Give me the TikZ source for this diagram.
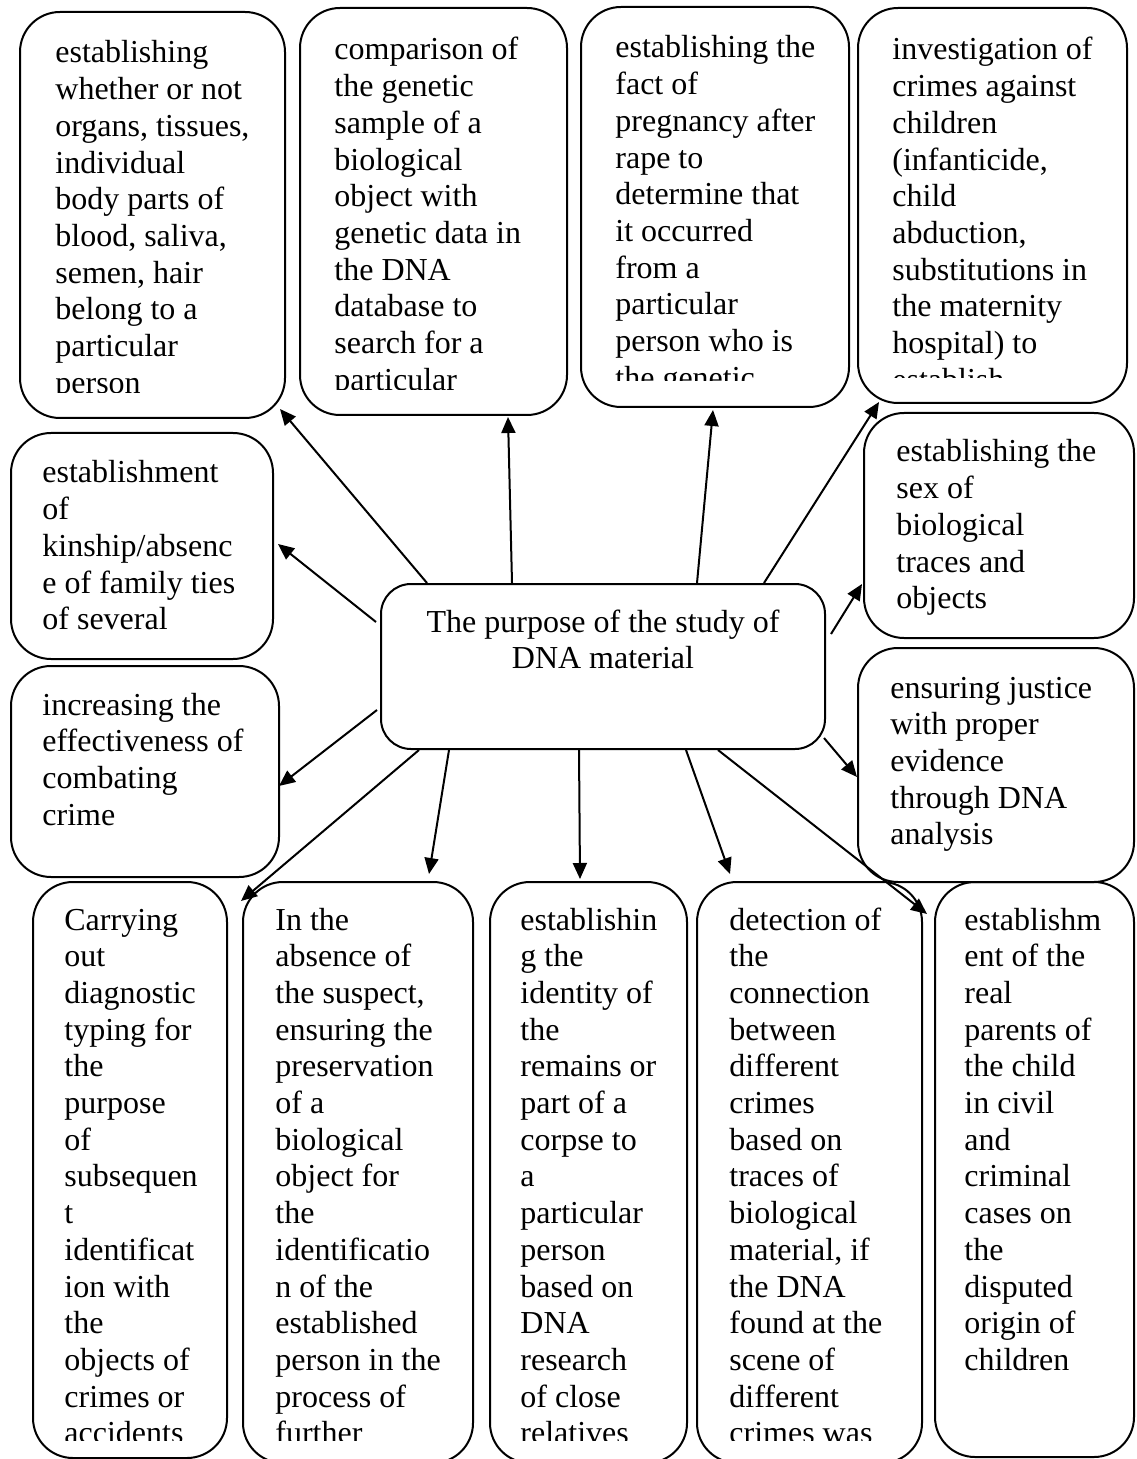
\documentclass[tikz,border=0pt]{standalone}
\usepackage{fontspec}
\setmainfont{Liberation Serif}
\usetikzlibrary{arrows.meta,calc,fit}
\newcommand{\boxlines}[1]{\begin{tabular}[t]{@{}l@{}}#1\end{tabular}}
\newcommand{\ctrlines}[1]{\begin{tabular}[t]{@{}c@{}}#1\end{tabular}}
\tikzset{
  pbox/.style={draw, line width=1pt, rounded corners=20pt, inner sep=0pt},
  cbox/.style={draw, line width=1pt, rounded corners=15pt, inner sep=0pt},
  ptext/.style={anchor=base west, inner sep=0pt, font=\fontsize{16}{18.35}\selectfont},
  ctext/.style={anchor=base, inner sep=0pt, font=\fontsize{16}{18.35}\selectfont},
  link/.style={line width=1pt, -{Triangle[length=8pt,width=7pt]}},
}
\begin{document}
\begin{tikzpicture}[x=0.5pt,y=-0.5pt]
\useasboundingbox (0,0) rectangle (1136,1459);
% boxes
\node[pbox, fit={(20,12) (285,418)}] (A1) {};
\node[pbox, fit={(300,8) (567,415)}] (A2) {};
\node[pbox, fit={(581,7) (849,407)}] (A3) {};
\node[pbox, fit={(858,8) (1127,403)}] (A4) {};
\node[pbox, fit={(11,433) (273,659)}] (B1) {};
\node[pbox, fit={(11,666) (279,877)}] (B2) {};
\node[pbox, fit={(864,413) (1134,638)}] (R1) {};
\node[pbox, fit={(858,648) (1134,882)}] (R2) {};
\node[cbox, fit={(381,584) (825,749)}] (C) {};
\node[pbox, fit={(33,882) (227,1458)}] (D1) {};
\node[pbox, fit={(243,882) (473,1463)}] (D2) {};
\node[pbox, fit={(490,882) (687,1463)}] (D3) {};
\node[pbox, fit={(697,882) (922,1463)}] (D4) {};
\node[pbox, fit={(935,882) (1134,1457)}] (D5) {};
% texts
\begin{scope}
\clip (20,12) rectangle (285,393);
\node[ptext] (tA1) at (55,63) {\boxlines{establishing\\whether or not\\organs, tissues,\\individual\\body parts of\\blood, saliva,\\semen, hair\\belong to a\\particular\\person}};
\end{scope}
\begin{scope}
\clip (300,8) rectangle (567,390);
\node[ptext] (tA2) at (334,60) {\boxlines{comparison of\\the genetic\\sample of a\\biological\\object with\\genetic data in\\the DNA\\database to\\search for a\\particular}};
\end{scope}
\begin{scope}
\clip (581,7) rectangle (849,381);
\node[ptext] (tA3) at (615,58) {\boxlines{establishing the\\fact of\\pregnancy after\\rape to\\determine that\\it occurred\\from a\\particular\\person who is\\the genetic}};
\end{scope}
\begin{scope}
\clip (858,8) rectangle (1127,378);
\node[ptext] (tA4) at (892,60) {\boxlines{investigation of\\crimes against\\children\\(infanticide,\\child\\abduction,\\substitutions in\\the maternity\\hospital) to\\establish}};
\end{scope}
\node[ptext] (tB1) at (42,483) {\boxlines{establishment\\of\\kinship/absenc\\e of family ties\\of several}};
\node[ptext] (tB2) at (42,715) {\boxlines{increasing the\\effectiveness of\\combating\\crime}};
\node[ptext] (tR1) at (896,462) {\boxlines{establishing the\\sex of\\biological\\traces and\\objects}};
\node[ptext] (tR2) at (890,698) {\boxlines{ensuring justice\\with proper\\evidence\\through DNA\\analysis}};
\node[ctext] (tC) at (603,632) {\ctrlines{The purpose of the study of\\DNA material}};
\begin{scope}
\clip (0,882) rectangle (1136,1440);
\node[ptext] (tD1) at (64,930) {\boxlines{Carrying\\out\\diagnostic\\typing for\\the\\purpose\\of\\subsequen\\t\\identificat\\ion with\\the\\objects of\\crimes or\\accidents}};
\node[ptext] (tD2) at (275,930) {\boxlines{In the\\absence of\\the suspect,\\ensuring the\\preservation\\of a\\biological\\object for\\the\\identificatio\\n of the\\established\\person in the\\process of\\further}};
\node[ptext] (tD3) at (520,930) {\boxlines{establishin\\g the\\identity of\\the\\remains or\\part of a\\corpse to\\a\\particular\\person\\based on\\DNA\\research\\of close\\relatives}};
\node[ptext] (tD4) at (729,930) {\boxlines{detection of\\the\\connection\\between\\different\\crimes\\based on\\traces of\\biological\\material, if\\the DNA\\found at the\\scene of\\different\\crimes was}};
\end{scope}
\node[ptext] (tD5) at (964,930) {\boxlines{establishm\\ent of the\\real\\parents of\\the child\\in civil\\and\\criminal\\cases on\\the\\disputed\\origin of\\children}};
% connectors
\draw[link] ($(C.north west)+(47,0)$) -- ($(A1.south east)+(-6,-10)$);
\draw[link] ($(C.north west)+(132,0)$) -- ($(A2.south west)+(209,1)$);
\draw[link] ($(C.north west)+(317,0)$) -- ($(A3.south west)+(133,2)$);
\draw[link] ($(C.north west)+(384,0)$) -- ($(A4.south west)+(22,-2)$);
\draw[link] ($(C.north west)+(-4,39)$) -- ($(B1.north east)+(4,112)$);
\draw[link] ($(C.north west)+(-3,127)$) -- ($(B2.north east)+(-1,121)$);
\draw[link] ($(C.south west)+(39,0)$) -- ($(D2.north west)+(-1,20)$);
\draw[link] ($(C.south west)+(69,0)$) -- ($(D2.north west)+(187,-7)$);
\draw[link] ($(C.south west)+(199,0)$) -- ($(D3.north west)+(91,-2)$);
\draw[link] ($(C.south west)+(306,0)$) -- ($(D4.north west)+(34,-7)$);
\draw[link] ($(C.south west)+(338,0)$) -- ($(D5.north west)+(-7,33)$);
\draw[link] ($(C.north east)+(5,51)$) -- ($(R1.north west)+(-1,172)$);
\draw[link] ($(C.south east)+(-2,-12)$) -- ($(R2.north west)+(0,130)$);
\end{tikzpicture}
\end{document}
